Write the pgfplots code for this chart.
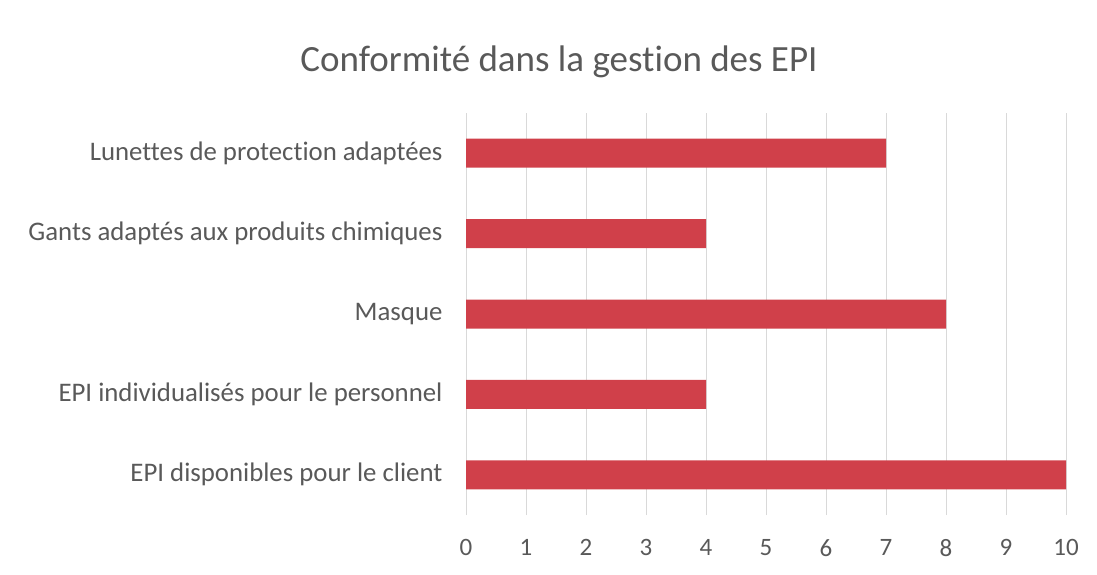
\documentclass[border=0pt]{standalone}
\usepackage{pgfplots}
\pgfplotsset{compat=1.18}
\usepackage{fontspec}
\setmainfont{Carlito}[Ligatures=NoCommon]
\definecolor{barred}{RGB}{208,64,74}
\definecolor{gridgray}{RGB}{217,217,217}
\definecolor{txt}{RGB}{89,89,89}
\begin{document}
\begin{tikzpicture}[x=1pt,y=1pt]
\path[use as bounding box] (0,0) rectangle (1097,574);
\begin{axis}[
  at={(466pt,59pt)}, anchor=south west,
  width=600pt, height=402pt, scale only axis,
  xbar, bar width=29pt,
  xmin=0, xmax=10, ymin=-0.5, ymax=4.5,
  xtick={0,...,10},
  ytick={0,1,2,3,4},
  yticklabels={EPI disponibles pour le client, EPI individualisés pour le personnel, Masque, Gants adaptés aux produits chimiques, Lunettes de protection adaptées},
  xmajorgrids, grid style={gridgray, line width=0.8pt},
  axis line style={draw=none},
  major tick length=0pt,
  yticklabel style={font=\fontsize{26.8}{30}\selectfont, text=txt, xshift=-20pt},
  xticklabel style={font=\fontsize{25}{28}\selectfont, text=txt, yshift=-21pt},
  /pgf/number format/assume math mode=true,
  title={Conformité dans la gestion des EPI},
  title style={font=\fontsize{37}{42}\selectfont, text=txt, at={(0.5,1)}, anchor=center, xshift=-207pt, yshift=45pt},
]
\addplot[fill=barred, draw=none] coordinates {(10,0) (4,1) (8,2) (4,3) (7,4)};
\end{axis}
\end{tikzpicture}
\end{document}
